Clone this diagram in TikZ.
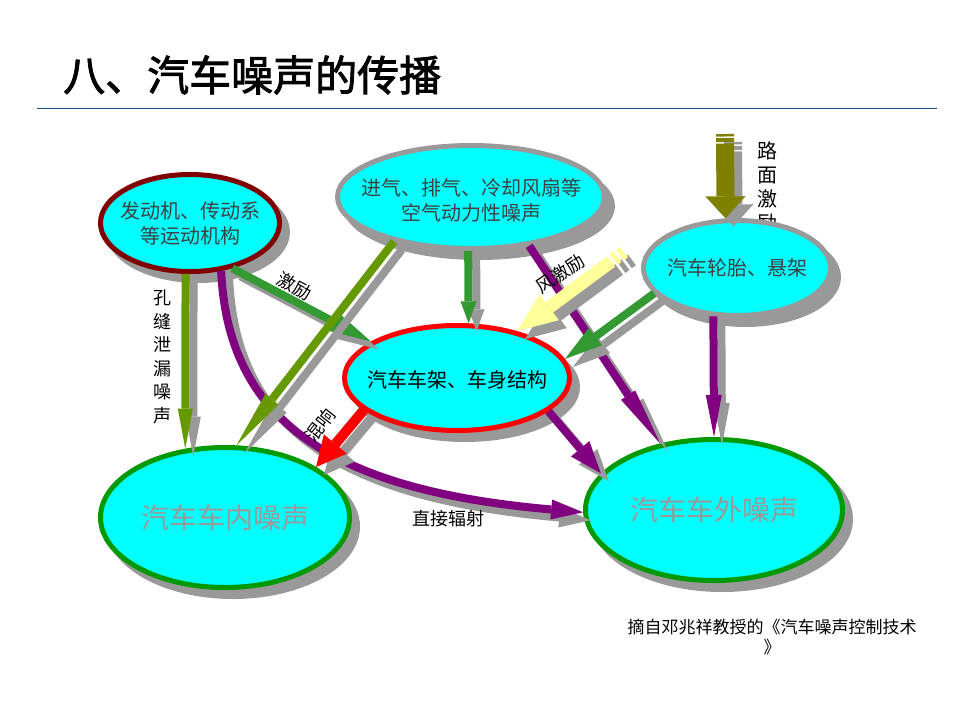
\documentclass[tikz,border=0pt]{standalone}
\usepackage{fontspec}
\usepackage{xcolor}
\usepackage{tikz}
\usetikzlibrary{shapes.geometric,arrows.meta,shadows}
\newfontfamily\cjk{Noto Sans CJK SC}
\newfontfamily\cjkbold{Noto Sans CJK SC}[FakeBold=2]
\definecolor{bubblecyan}{RGB}{0,255,255}
\definecolor{shadowgray}{RGB}{153,153,153}
\definecolor{engred}{RGB}{128,0,0}
\definecolor{framered}{RGB}{255,0,0}
\definecolor{noisegreen}{RGB}{0,153,0}
\definecolor{flowgreen}{RGB}{51,153,51}
\definecolor{flowolive}{RGB}{102,153,0}
\definecolor{flowpurple}{RGB}{128,0,128}
\definecolor{roadolive}{RGB}{128,128,0}
\definecolor{windyellow}{RGB}{255,255,153}
\definecolor{titleblue}{RGB}{31,73,125}
\definecolor{labelgray}{RGB}{64,64,64}
\tikzset{
  bubble/.style={ellipse, fill=bubblecyan, line width=5pt, inner sep=0pt,
    drop shadow={shadow xshift=8pt, shadow yshift=-9pt, opacity=1, fill=shadowgray, draw=shadowgray, line width=5pt}},
  bubtext/.style={font=\cjk\fontsize{20}{25}\selectfont, text=labelgray, align=center, inner sep=0pt},
  noisetext/.style={font=\cjk\fontsize{28}{28}\selectfont, text=shadowgray, inner sep=0pt},
  flowlabel/.style={font=\cjk\fontsize{18}{23.5}\selectfont, align=center, inner sep=0pt},
  flow/.style={line width=8pt},
  ghost/.style={draw=shadowgray, transform canvas={shift={(8pt,-8pt)}}},
}
\begin{document}
\begin{tikzpicture}[x=1pt,y=1pt,yscale=-1]
\useasboundingbox (0,0) rectangle (960,720);
% Title
\node [anchor=west, inner sep=0pt, font=\cjkbold\fontsize{42}{42}\selectfont] (title) at (63,75) {八、汽车噪声的传播};
\draw [titleblue, line width=1pt] (37,108) -- (937,108);
% Text Node (road, partly behind the tyre bubble)
\node [flowlabel, font=\cjk\fontsize{20}{24}\selectfont, anchor=north] (roadT) at (767,141) {路\\面\\激\\励};
% Bubbles
\node [bubble, draw=engred, minimum width=179pt, minimum height=97pt] (engine) at (190,223) {};
\node [bubble, draw=shadowgray, minimum width=267pt, minimum height=103pt] (intake) at (471,197) {};
\node [bubble, draw=shadowgray, minimum width=187pt, minimum height=95pt] (tyre) at (737,268) {};
\node [bubble, draw=framered, minimum width=225pt, minimum height=105pt] (frame) at (457,378) {};
\node [bubble, draw=noisegreen, minimum width=249pt, minimum height=140pt] (inside) at (225,517.5) {};
\node [bubble, draw=noisegreen, minimum width=257pt, minimum height=141pt] (outside) at (714,510) {};
% Bubble texts
\node [bubtext] (engineT) at (engine.center) {发动机、传动系\\等运动机构};
\node [bubtext] (intakeT) at (471,200) {进气、排气、冷却风扇等\\空气动力性噪声};
\node [bubtext] (tyreT) at (tyre.center) {汽车轮胎、悬架};
\node [bubtext, text=black] (frameT) at (457,380) {汽车车架、车身结构};
\node [noisetext] (insideT) at (inside.center) {汽车车内噪声};
\node [noisetext] (outsideT) at (outside.center) {汽车车外噪声};
% Free ends
\coordinate (windTail) at (624,252);
\coordinate (roadTail) at (725,134);
% Direct radiation (curve)
\draw [flow, draw=flowpurple, -{Triangle[length=32pt,width=20pt,line width=0pt]}, ghost] (engine.-57) .. controls (228,420) and (330,490) .. (outside.181.3);
\draw [flow, draw=flowpurple, -{Triangle[length=32pt,width=20pt,line width=0pt]}] (engine.-57) .. controls (228,420) and (330,490) .. (outside.181.3);
% Excitation engine -> frame
\draw [flow, draw=flowgreen, -{Triangle[length=45pt,width=22pt,line width=0pt]}, ghost] (engine.-47.2) -- (frame.157.5);
\draw [flow, draw=flowgreen, -{Triangle[length=45pt,width=22pt,line width=0pt]}] (engine.-47.2) -- (frame.157.5);
% Leakage engine -> inside
\draw [flow, draw=flowolive, -{Triangle[length=40pt,width=15pt,line width=0pt]}, ghost] (engine.-95.6) -- (inside.120.2);
\draw [flow, draw=flowolive, -{Triangle[length=40pt,width=15pt,line width=0pt]}] (engine.-95.6) -- (inside.120.2);
% Intake -> inside
\draw [flow, draw=flowolive, -{Triangle[length=58pt,width=17pt,line width=0pt]}, ghost] (intake.-150.5) -- (inside.81.3);
\draw [flow, draw=flowolive, -{Triangle[length=58pt,width=17pt,line width=0pt]}] (intake.-150.5) -- (inside.81.3);
% Intake -> frame
\draw [flow, draw=flowgreen, -{Triangle[length=22pt,width=16pt,line width=0pt]}, ghost] (intake.-93.2) -- (frame.78.6);
\draw [flow, draw=flowgreen, -{Triangle[length=22pt,width=16pt,line width=0pt]}] (intake.-93.2) -- (frame.78.6);
% Intake -> outside
\draw [flow, draw=flowpurple, -{Triangle[length=58pt,width=17pt,line width=0pt]}, ghost] (intake.-40.7) -- (outside.129.1);
\draw [flow, draw=flowpurple, -{Triangle[length=58pt,width=17pt,line width=0pt]}] (intake.-40.7) -- (outside.129.1);
% Wind excitation
\draw [line width=13pt, draw=windyellow, dash pattern=on 5pt off 3pt on 5pt off 3pt on 300pt, -{Triangle[length=40pt,width=32pt,line width=0pt]}, ghost] (windTail) -- (frame.38.7);
\draw [line width=13pt, draw=windyellow, dash pattern=on 5pt off 3pt on 5pt off 3pt on 300pt, -{Triangle[length=40pt,width=32pt,line width=0pt]}] (windTail) -- (frame.38.7);
% Tyre -> frame
\draw [flow, draw=flowgreen, -{Triangle[length=38pt,width=22pt,line width=0pt]}, ghost] (tyre.-163.9) -- (frame.10.7);
\draw [flow, draw=flowgreen, -{Triangle[length=38pt,width=22pt,line width=0pt]}] (tyre.-163.9) -- (frame.10.7);
% Tyre -> outside
\draw [flow, draw=flowpurple, -{Triangle[length=42pt,width=16pt,line width=0pt]}, ghost] (tyre.-116.4) -- (outside.90.8);
\draw [flow, draw=flowpurple, -{Triangle[length=42pt,width=16pt,line width=0pt]}] (tyre.-116.4) -- (outside.90.8);
% Road excitation
\draw [line width=18pt, draw=roadolive, dash pattern=on 2.5pt off 1.5pt on 4pt off 1.5pt on 300pt, -{Triangle[length=22pt,width=40pt,line width=0pt]}, ghost] (roadTail) -- (tyre.103.6);
\draw [line width=18pt, draw=roadolive, dash pattern=on 2.5pt off 1.5pt on 4pt off 1.5pt on 300pt, -{Triangle[length=22pt,width=40pt,line width=0pt]}] (roadTail) -- (tyre.103.6);
% Frame -> outside
\draw [flow, draw=flowpurple, -{Triangle[length=32pt,width=24pt,line width=0pt]}, ghost] (frame.-20.3) -- (outside.162.5);
\draw [flow, draw=flowpurple, -{Triangle[length=32pt,width=24pt,line width=0pt]}] (frame.-20.3) -- (outside.162.5);
% Reverberation frame -> inside
\draw [line width=10pt, draw=framered, -{Triangle[length=30pt,width=30pt,line width=0pt]}, ghost] (frame.-161.9) -- (inside.29.6);
\draw [line width=10pt, draw=framered, -{Triangle[length=30pt,width=30pt,line width=0pt]}] (frame.-161.9) -- (inside.29.6);
% Flow labels
\node [flowlabel, rotate=-28] (exciteT) at (295,286) {激励};
\node [flowlabel, rotate=34] (windT) at (560,274) {风激励};
\node [flowlabel, rotate=52] (reverbT) at (320,425) {混响};
\node [flowlabel] (radiateT) at (448,519) {直接辐射};
\node [flowlabel] (leakT) at (162,357) {孔\\缝\\泄\\漏\\噪\\声};
% Source note
\node [font=\cjk\fontsize{17}{20}\selectfont, align=center, inner sep=0pt] (source) at (772,637) {摘自邓兆祥教授的《汽车噪声控制技术\\》};
\end{tikzpicture}
\end{document}
